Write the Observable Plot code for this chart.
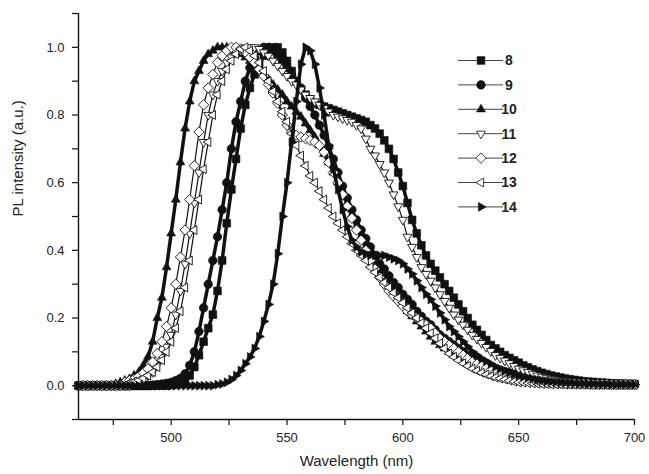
<!DOCTYPE html>
<html><head><meta charset="utf-8">
<script src="https://cdn.jsdelivr.net/npm/d3@7"></script>
<script src="https://cdn.jsdelivr.net/npm/@observablehq/plot@0.6"></script>
<style>
body{margin:0;background:#fff;}
#chart{width:649px;height:474px;}
</style></head><body><div id="chart"></div>
<script>
// ---- data (PL spectra, normalized), sampled every 2 nm from 460 to 700 nm ----
const seriesNames = ["8", "9", "10", "11", "12", "13", "14"];
const xMajorTicks = [500, 550, 600, 650, 700];
const xMinorTicks = [475, 525, 575, 625, 675];
const yMajorTicks = [0, 0.2, 0.4, 0.6, 0.8, 1.0];
const yMinorTicks = [-0.1, 0.1, 0.3, 0.5, 0.7, 0.9, 1.1];

const s8 = [
  0,0,0,0,0,0,0,0,0,0,
  0,0,0,0,0,0,0,0,0,0,
  .002,.004,.008,.015,.03,.055,.09,.13,.17,.21,
  .28,.37,.48,.58,.67,.76,.83,.88,.92,.95,
  .975,.99,1,1,.985,.96,.93,.9,.875,.86,
  .845,.835,.83,.825,.82,.815,.81,.805,.8,.795,
  .79,.785,.78,.77,.76,.745,.725,.7,.67,.63,
  .59,.54,.49,.45,.415,.385,.36,.34,.32,.3,
  .28,.26,.24,.22,.2,.18,.165,.15,.135,.12,
  .11,.1,.09,.082,.075,.068,.06,.054,.048,.043,
  .038,.034,.03,.027,.024,.021,.019,.017,.015,.013,
  .012,.011,.01,.009,.008,.007,.006,.006,.005,.005,
  .005];
const s9 = [
  0,0,0,0,0,0,0,0,0,0,
  0,0,0,0,0,0,.002,.003,.005,.007,
  .01,.015,.022,.035,.06,.1,.16,.23,.3,.37,
  .44,.52,.6,.7,.78,.84,.9,.94,.97,.99,
  1,1,.99,.975,.96,.94,.92,.9,.88,.85,
  .825,.8,.77,.74,.705,.67,.63,.59,.555,.52,
  .49,.46,.435,.41,.385,.36,.345,.325,.305,.29,
  .27,.255,.24,.22,.205,.19,.18,.165,.15,.14,
  .13,.12,.11,.1,.09,.08,.073,.066,.06,.055,
  .05,.046,.042,.038,.034,.03,.027,.024,.022,.02,
  .018,.016,.014,.013,.012,.011,.01,.009,.008,.008,
  .007,.007,.006,.006,.005,.005,.005,.004,.004,.004,
  .004];
const s10 = [
  0,0,0,0,0,0,0,0,.005,.01,
  .015,.02,.03,.04,.06,.085,.13,.2,.26,.35,
  .45,.55,.66,.76,.84,.9,.93,.96,.98,.99,
  1,1,1,.99,.985,.98,.97,.96,.945,.93,
  .92,.905,.89,.875,.86,.84,.825,.81,.795,.775,
  .755,.735,.71,.685,.66,.63,.6,.57,.54,.505,
  .47,.44,.41,.385,.36,.34,.32,.3,.28,.26,
  .24,.22,.205,.19,.175,.16,.145,.13,.12,.11,
  .1,.09,.082,.074,.066,.06,.054,.048,.043,.038,
  .034,.03,.027,.024,.021,.019,.017,.015,.013,.012,
  .011,.01,.009,.008,.008,.007,.007,.006,.006,.005,
  .005,.005,.004,.004,.004,.004,.003,.003,.003,.003,
  .003];
const s11 = [
  0,0,0,0,0,0,0,0,0,0,
  0,0,.01,.015,.02,.03,.04,.06,.085,.115,
  .15,.21,.28,.36,.45,.54,.63,.72,.8,.86,
  .9,.93,.955,.97,.985,.99,.995,1,1,.995,
  .985,.975,.96,.945,.93,.915,.9,.89,.875,.86,
  .85,.84,.83,.82,.81,.8,.795,.79,.785,.78,
  .77,.76,.73,.7,.68,.655,.63,.6,.565,.53,
  .49,.44,.41,.38,.35,.33,.31,.29,.27,.25,
  .23,.21,.195,.18,.165,.15,.138,.126,.114,.102,
  .09,.082,.074,.066,.058,.05,.045,.04,.035,.03,
  .026,.023,.02,.018,.016,.014,.013,.012,.011,.01,
  .009,.008,.008,.007,.007,.006,.006,.005,.005,.005,
  .004];
const s12 = [
  0,0,0,0,0,0,0,0,0,0,
  .01,.015,.02,.028,.038,.05,.07,.095,.13,.175,
  .23,.3,.38,.46,.55,.65,.75,.83,.88,.92,
  .955,.975,.99,1,1,.995,.985,.97,.955,.935,
  .915,.89,.865,.835,.8,.77,.75,.74,.735,.73,
  .725,.72,.71,.69,.66,.63,.6,.565,.53,.495,
  .46,.43,.4,.37,.345,.32,.3,.28,.265,.25,
  .235,.22,.21,.2,.19,.18,.17,.155,.14,.13,
  .12,.11,.1,.09,.08,.07,.064,.058,.052,.046,
  .04,.036,.032,.028,.024,.02,.018,.016,.014,.012,
  .01,.009,.008,.008,.007,.007,.006,.006,.005,.005,
  .005,.004,.004,.004,.004,.003,.003,.003,.003,.003,
  .003];
const s13 = [
  0,0,0,0,0,0,0,0,0,0,
  0,.008,.012,.016,.022,.03,.04,.055,.075,.1,
  .13,.17,.22,.29,.37,.46,.55,.64,.72,.8,
  .86,.9,.935,.96,.98,.995,1,.99,.975,.955,
  .93,.9,.87,.84,.81,.78,.745,.71,.68,.65,
  .62,.6,.575,.55,.525,.5,.48,.46,.44,.42,
  .4,.385,.37,.35,.335,.32,.305,.29,.275,.26,
  .245,.23,.215,.2,.185,.17,.155,.14,.125,.11,
  .095,.085,.075,.066,.058,.05,.044,.038,.033,.028,
  .024,.021,.018,.015,.012,.01,.009,.008,.007,.006,
  .005,.005,.004,.004,.004,.003,.003,.003,.003,.003,
  .002,.002,.002,.002,.002,.002,.002,.002,.002,.002,
  .002];
const s14 = [
  0,0,0,0,0,0,0,0,0,0,
  0,0,0,0,0,0,0,0,0,0,
  0,0,0,0,0,0,0,0,0,0,
  .003,.005,.01,.018,.03,.045,.065,.085,.11,.145,
  .19,.24,.3,.39,.5,.6,.72,.84,.95,1,
  .99,.95,.88,.8,.71,.64,.58,.52,.47,.43,
  .41,.395,.39,.385,.385,.385,.385,.38,.375,.37,
  .36,.345,.33,.31,.29,.27,.255,.235,.215,.195,
  .175,.16,.145,.13,.115,.1,.09,.08,.072,.064,
  .056,.05,.044,.039,.034,.03,.026,.023,.02,.017,
  .015,.013,.012,.011,.01,.009,.008,.007,.006,.006,
  .005,.005,.004,.004,.004,.003,.003,.003,.003,.003,
  .003];
const wavelengths = d3.range(460, 701, 2);
const seriesValues = [s8, s9, s10, s11, s12, s13, s14];

// ---- marker shapes ----
function shape(fn) { return {draw(c, size) { fn(c, Math.sqrt(size / Math.PI)); }}; }
const poly = (c, pts) => { c.moveTo(pts[0][0], pts[0][1]); for (let i = 1; i < pts.length; i++) c.lineTo(pts[i][0], pts[i][1]); c.closePath(); };
const symSquare = shape((c, r) => { const h = r * 0.9; poly(c, [[-h,-h],[h,-h],[h,h],[-h,h]]); });
const symCircle = shape((c, r) => { c.moveTo(r, 0); c.arc(0, 0, r, 0, 2 * Math.PI); });
const symUp = shape((c, r) => { const a = r * 1.2; poly(c, [[0,-a],[a*0.866,a*0.5],[-a*0.866,a*0.5]]); });
const symDown = shape((c, r) => { const a = r * 1.2; poly(c, [[0,a],[a*0.866,-a*0.5],[-a*0.866,-a*0.5]]); });
const symDiamond = shape((c, r) => { const a = r * 1.2; poly(c, [[0,-a],[a,0],[0,a],[-a,0]]); });
const symLeft = shape((c, r) => { const a = r * 1.2; poly(c, [[-a,0],[a*0.5,-a*0.866],[a*0.5,a*0.866]]); });
const symRight = shape((c, r) => { const a = r * 1.2; poly(c, [[a,0],[-a*0.5,-a*0.866],[-a*0.5,a*0.866]]); });
const symbols = [symSquare, symCircle, symUp, symDown, symDiamond, symLeft, symRight];
const filled = [true, true, true, false, false, false, true];

const ink = "#111";
const R = 4.3;

const seriesMarks = [];
seriesNames.forEach((name, k) => {
  const vals = seriesValues[k];
  const n = Math.min(vals.length, wavelengths.length);
  const data = d3.range(n).map(i => ({x: wavelengths[i], y: vals[i]}));
  seriesMarks.push(Plot.line(data, {x: "x", y: "y", stroke: ink, strokeWidth: filled[k] ? 3.5 : 1.2}));
  seriesMarks.push(Plot.dot(data, {x: "x", y: "y", symbol: symbols[k], r: R,
    fill: filled[k] ? ink : "#fff", stroke: ink, strokeWidth: filled[k] ? 0.6 : 0.9}));
});

const plot = Plot.plot({
  width: 649, height: 474,
  marginLeft: 78, marginRight: 15, marginTop: 13, marginBottom: 55,
  x: {domain: [460, 700]},
  y: {domain: [-0.1, 1.1]},
  style: {fontFamily: "'Liberation Sans', Arial, Helvetica, sans-serif", fontSize: "13px", color: "#222", background: "#fff", overflow: "visible"},
  marks: [
    ...seriesMarks,
    Plot.axisX(xMajorTicks, {tickSize: 6, tickPadding: 7, tickFormat: d => String(d), label: null, stroke: ink, strokeWidth: 1.2}),
    Plot.axisX(xMinorTicks, {tickSize: 6, tickFormat: () => "", label: null, stroke: ink, strokeWidth: 1.2}),
    Plot.axisY(yMajorTicks, {tickSize: 6, tickPadding: 8, tickFormat: d => d.toFixed(1), label: null, stroke: ink, strokeWidth: 1.2}),
    Plot.axisY(yMinorTicks, {tickSize: 6, tickFormat: () => "", label: null, stroke: ink, strokeWidth: 1.2}),
    Plot.ruleX([460], {stroke: ink, strokeWidth: 1.4}),
    Plot.ruleY([-0.1], {stroke: ink, strokeWidth: 1.4}),
    Plot.text(["Wavelength (nm)"], {text: d => d, frameAnchor: "bottom", dy: 46, fontSize: 15, fill: "#222"}),
    Plot.text(["PL intensity (a.u.)"], {text: d => d, frameAnchor: "left", dx: -60, rotate: -90, fontSize: 15, fill: "#222"})
  ]
});
document.getElementById("chart").appendChild(plot);

// ---- legend (drawn into the same SVG) ----
const svg = d3.select(plot);
const lg = svg.append("g").attr("class", "legend");
seriesNames.forEach((name, k) => {
  const yy = 60.5 + k * 24.4;
  lg.append("line").attr("x1", 458).attr("x2", 503).attr("y1", yy).attr("y2", yy)
    .attr("stroke", "#444").attr("stroke-width", 1);
  lg.append("path").attr("transform", `translate(481,${yy})`)
    .attr("d", d3.symbol(symbols[k], Math.PI * R * R)())
    .attr("fill", filled[k] ? ink : "#fff").attr("stroke", ink).attr("stroke-width", filled[k] ? 0.6 : 0.8);
  lg.append("text").attr("x", 509).attr("y", yy).attr("dy", "0.35em")
    .attr("font-family", "'Liberation Sans', Arial, sans-serif").attr("font-size", 14)
    .attr("font-weight", "bold").attr("fill", "#222").text(name);
});
</script>
</body></html>
